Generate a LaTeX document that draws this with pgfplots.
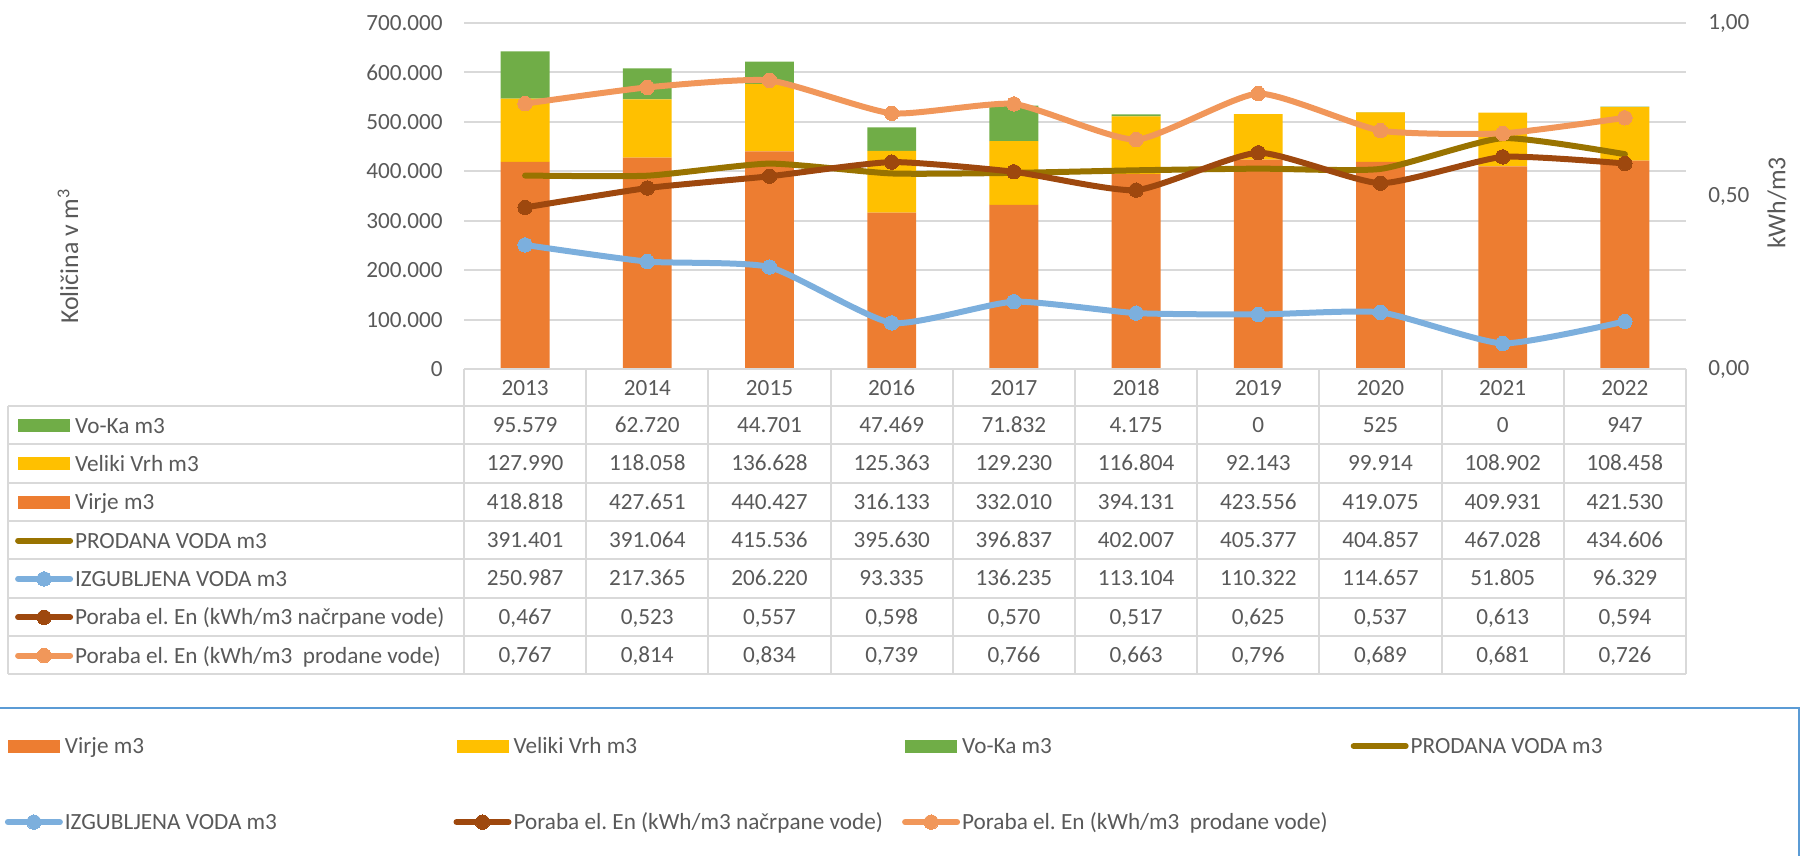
\documentclass[border=0pt]{standalone}
\usepackage{fontspec}
\setmainfont{Carlito}
\usepackage{pgfplots}
\usepackage{pgfplotstable}
\pgfplotsset{compat=1.18}
\frenchspacing
\definecolor{virje}{HTML}{ED7D31}
\definecolor{vrh}{HTML}{FFC000}
\definecolor{voka}{HTML}{70AD47}
\definecolor{prodana}{HTML}{997300}
\definecolor{izg}{HTML}{7CAFDD}
\definecolor{pnac}{HTML}{9E480E}
\definecolor{pprod}{HTML}{F1975A}
\definecolor{gridgray}{HTML}{D9D9D9}
\definecolor{txt}{HTML}{595959}
\definecolor{legblue}{HTML}{5B9BD5}
\newcommand\cf{\fontsize{11.6}{13.9}\selectfont}
\newcommand\tf{\fontsize{12.9}{15.5}\selectfont}
\newcommand\lb[1]{\makebox[194.3pt][l]{#1}}

\pgfplotstableread{
x virje vrh voka prodana izg pnac pprod
0 418818 127990 95579 391401 250987 0.467 0.767
1 427651 118058 62720 391064 217365 0.523 0.814
2 440427 136628 44701 415536 206220 0.557 0.834
3 316133 125363 47469 395630 93335 0.598 0.739
4 332010 129230 71832 396837 136235 0.570 0.766
5 394131 116804 4175 402007 113104 0.517 0.663
6 423556 92143 0 405377 110322 0.625 0.796
7 419075 99914 525 404857 114657 0.537 0.689
8 409931 108902 0 467028 51805 0.613 0.681
9 421530 108458 947 434606 96329 0.594 0.726
}\data

\pgfplotsset{
  base/.style={scale only axis, width=611pt, height=173pt, at={(232pt,-184.5pt)}, anchor=south west,
    xmin=-0.5, xmax=9.5, clip=false, axis line style={draw=none}, tick style={draw=none},
    tick label style={font=\cf, text=txt}},
  barleg/.style={legend image code/.code={\fill (0pt,-3.25pt) rectangle (26pt,3.25pt);}},
  lineleg/.style={legend image code/.code={\draw[mark repeat=2, mark phase=2] plot coordinates {(0pt,0pt) (13pt,0pt) (26pt,0pt)};}},
  ser/.style={line width=3pt, line cap=round, line join=round, smooth, tension=0.33},
  mk/.style={mark=*, mark size=3.6pt, mark options={solid, fill=#1, draw=#1, line width=0pt}},
  legcommon/.style={legend cell align=left,
    legend style={draw=none, fill=none, inner sep=0pt, font=\cf, text=txt,
      nodes={inner sep=0pt, text height=10pt, text depth=2.6pt},
      /tikz/every odd column/.append style={column sep=1pt}}},
}

\begin{document}
\begin{tikzpicture}
\path[use as bounding box] (0,0) rectangle (902pt,-428pt);

% bars
\begin{axis}[base, ymin=0, ymax=700000, ybar stacked, bar width=0.4,
  ytick={0,100000,...,700000}, ymajorgrids, major grid style={gridgray, line width=1pt},
  scaled y ticks=false,
  yticklabel style={anchor=east, xshift=-7.1pt, /pgf/number format/.cd, fixed, 1000 sep={.}, assume math mode=true},
  xtick={0,1,2,3,4,5,6,7,8,9},
  xticklabels={2013,2014,2015,2016,2017,2018,2019,2020,2021,2022},
  xticklabel style={anchor=base, yshift=-13.35pt}]
\addplot[fill=virje, draw=none] table[x=x,y=virje]{\data};
\addplot[fill=vrh, draw=none] table[x=x,y=vrh]{\data};
\addplot[fill=voka, draw=none] table[x=x,y=voka]{\data};
\end{axis}

% primary lines + data-table keys
\begin{axis}[base, ymin=0, ymax=700000, xtick=\empty, ytick=\empty, legcommon,
  legend style={at={(-0.367676,-0.126012)}, anchor=north west, row sep=6.567pt}]
\addplot[ser, color=prodana, forget plot] table[x=x,y=prodana]{\data};
\addplot[ser, color=izg, mk=izg, forget plot] table[x=x,y=izg]{\data};
\addlegendimage{barleg, fill=voka, draw=none}
\addlegendentry{Vo-Ka m3}
\addlegendimage{barleg, fill=vrh, draw=none}
\addlegendentry{Veliki Vrh m3}
\addlegendimage{barleg, fill=virje, draw=none}
\addlegendentry{Virje m3}
\addlegendimage{lineleg, ser, color=prodana}
\addlegendentry{PRODANA VODA m3}
\addlegendimage{lineleg, ser, color=izg, mk=izg}
\addlegendentry{IZGUBLJENA VODA m3}
\addlegendimage{lineleg, ser, color=pnac, mk=pnac}
\addlegendentry{Poraba el. En (kWh/m3 načrpane vode)}
\addlegendimage{lineleg, ser, color=pprod, mk=pprod}
\addlegendentry{Poraba el. En (kWh/m3~ prodane vode)}
\end{axis}

% secondary axis lines + bottom legend
\begin{axis}[base, ymin=0, ymax=1, xtick=\empty, ytick={0,0.5,1},
  yticklabel pos=right,
  yticklabel style={anchor=west, xshift=7.6pt, /pgf/number format/.cd, fixed, fixed zerofill, precision=2, use comma, assume math mode=true},
  legcommon, legend columns=4,
  legend style={at={(-0.376023,-1.052312)}, anchor=north west, row sep=25.4pt}]
\addplot[ser, color=pnac, mk=pnac, forget plot] table[x=x,y=pnac]{\data};
\addplot[ser, color=pprod, mk=pprod, forget plot] table[x=x,y=pprod]{\data};
\addlegendimage{barleg, fill=virje, draw=none}
\addlegendentry{\lb{Virje m3}}
\addlegendimage{barleg, fill=vrh, draw=none}
\addlegendentry{\lb{Veliki Vrh m3}}
\addlegendimage{barleg, fill=voka, draw=none}
\addlegendentry{\lb{Vo-Ka m3}}
\addlegendimage{lineleg, ser, color=prodana}
\addlegendentry{\lb{PRODANA VODA m3}}
\addlegendimage{lineleg, ser, color=izg, mk=izg}
\addlegendentry{\lb{IZGUBLJENA VODA m3}}
\addlegendimage{lineleg, ser, color=pnac, mk=pnac}
\addlegendentry{\lb{Poraba el. En (kWh/m3 načrpane vode)}}
\addlegendimage{lineleg, ser, color=pprod, mk=pprod}
\addlegendentry{\lb{Poraba el. En (kWh/m3~ prodane vode)}}
\end{axis}

\begin{scope}[x=0.5pt, y=-0.5pt]
  % data table grid
  \draw[gridgray, line width=1pt] (464,369) -- (1686,369);
  \foreach \yy in {406,444.33,482.67,521,559.33,597.67,636,674.33}
    \draw[gridgray, line width=1pt] (8,\yy) -- (1686,\yy);
  \draw[gridgray, line width=1pt] (8,406) -- (8,674.33);
  \foreach \k in {0,...,10}
    \draw[gridgray, line width=1pt] ({464+122.2*\k},369) -- ({464+122.2*\k},674.33);
  % table values
  \tikzset{cell/.style={anchor=base, font=\cf, text=txt, inner sep=0pt}}
  \foreach \v [count=\c from 0] in {95.579,62.720,44.701,47.469,71.832,4.175,0,525,0,947}
    \node[cell] at ({464+122.2*(\c+0.5)},432.57) {\v};
  \foreach \v [count=\c from 0] in {127.990,118.058,136.628,125.363,129.230,116.804,92.143,99.914,108.902,108.458}
    \node[cell] at ({464+122.2*(\c+0.5)},470.9) {\v};
  \foreach \v [count=\c from 0] in {418.818,427.651,440.427,316.133,332.010,394.131,423.556,419.075,409.931,421.530}
    \node[cell] at ({464+122.2*(\c+0.5)},509.23) {\v};
  \foreach \v [count=\c from 0] in {391.401,391.064,415.536,395.630,396.837,402.007,405.377,404.857,467.028,434.606}
    \node[cell] at ({464+122.2*(\c+0.5)},547.57) {\v};
  \foreach \v [count=\c from 0] in {250.987,217.365,206.220,93.335,136.235,113.104,110.322,114.657,51.805,96.329}
    \node[cell] at ({464+122.2*(\c+0.5)},585.9) {\v};
  \foreach \v [count=\c from 0] in {{0,467},{0,523},{0,557},{0,598},{0,570},{0,517},{0,625},{0,537},{0,613},{0,594}}
    \node[cell] at ({464+122.2*(\c+0.5)},624.23) {\v};
  \foreach \v [count=\c from 0] in {{0,767},{0,814},{0,834},{0,739},{0,766},{0,663},{0,796},{0,689},{0,681},{0,726}}
    \node[cell] at ({464+122.2*(\c+0.5)},662.57) {\v};
  % axis titles
  \node[rotate=90, font=\tf, text=txt] at (68,256) {Količina v m\textsuperscript{3}};
  \node[rotate=90, font=\tf, text=txt] at (1777,203) {kWh/m3};
  % legend frame
  \draw[legblue, line width=1pt] (-10,708) -- (1799,708) -- (1799,880);
\end{scope}
\end{tikzpicture}
\end{document}
